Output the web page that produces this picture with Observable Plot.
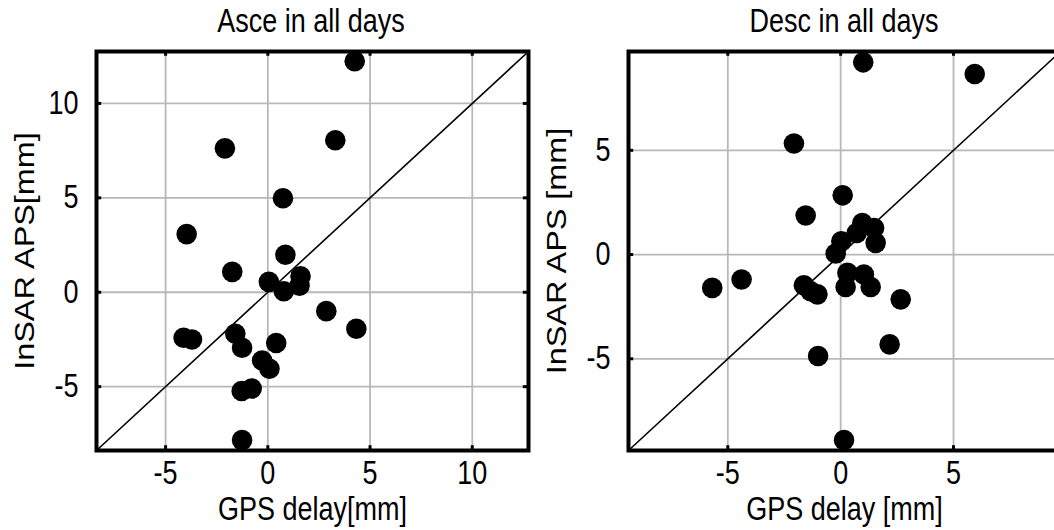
<!DOCTYPE html>
<html>
<head>
<meta charset="utf-8">
<script src="https://cdn.jsdelivr.net/npm/d3@7"></script>
<script src="https://cdn.jsdelivr.net/npm/@observablehq/plot@0.6"></script>
<style>
  html, body { margin: 0; padding: 0; background: white; }
  #wrap { position: relative; width: 1054px; height: 530px; overflow: hidden; background: white; }
  .panel { position: absolute; top: 0; width: 540px; }
  .panel svg { max-width: none !important; }
  .title { position: absolute; top: 6px; font-family: "Liberation Sans", Arial, sans-serif; font-size: 27px; color: black; text-align: center; width: 400px; transform: scaleY(1.2); transform-origin: 50% 50%; }
</style>
</head>
<body>
<div id="wrap">
  <div class="panel" id="left" style="left:0px"></div>
  <div class="panel" id="right" style="left:532px"></div>
  <div class="title" id="t1" style="left:111px"></div>
  <div class="title" id="t2" style="left:644px"></div>
</div>
<script>
// ---- Data ----
const titles = ["Asce in all days", "Desc in all days"];
const xLabels = ["GPS delay[mm]", "GPS delay [mm]"];
const yLabels = ["InSAR APS[mm]", "InSAR APS [mm]"];

const asceGPS = [4.25, 3.30, -2.10, 0.74, -3.97, 0.86, -1.74, 0.05, 0.78, 1.60, 1.55, 2.86, 4.33, -4.12, -3.71, -1.59, -1.26, 0.41, -0.28, 0.08, -1.28, -0.79, -1.26];
const asceAPS = [12.23, 8.05, 7.62, 4.98, 3.08, 1.99, 1.08, 0.55, 0.05, 0.85, 0.35, -1.00, -1.93, -2.41, -2.50, -2.20, -2.94, -2.69, -3.61, -4.05, -5.23, -5.10, -7.83];

const descGPS = [1.00, 5.94, -2.07, 0.09, -1.55, 0.96, 1.48, 0.71, 1.55, 0.03, -0.22, -4.39, -5.69, 0.30, 1.03, -1.63, -1.33, -1.03, 0.22, 1.33, 2.66, 2.17, -1.00, 0.15];
const descAPS = [9.22, 8.66, 5.33, 2.84, 1.87, 1.51, 1.27, 1.03, 0.56, 0.64, 0.05, -1.20, -1.60, -0.88, -0.96, -1.47, -1.76, -1.91, -1.56, -1.56, -2.15, -4.31, -4.87, -8.90];

const asceDomain = [-8.38, 12.75];
const descDomain = [-9.4, 9.74];
const asceTicks = [-5, 0, 5, 10];
const descTicks = [-5, 0, 5];

function panel(xs, ys, domain, ticks, xlabel, ylabel) {
  const data = xs.map((x, i) => ({x, y: ys[i]}));
  const d0 = domain[0], d1 = domain[1];
  const tickLen = (d1 - d0) * 0.012;
  const fmt = d => String(d);
  return Plot.plot({
    width: 540,
    height: 530,
    marginLeft: 96,
    marginRight: 12,
    marginTop: 51,
    marginBottom: 80,
    style: {fontFamily: "'Liberation Sans', Arial, sans-serif", fontSize: "27px", color: "black", background: "white", overflow: "visible", maxWidth: "none"},
    x: {domain, ticks},
    y: {domain, ticks},
    marks: [
      Plot.gridX(ticks, {stroke: "#b8b8b8", strokeOpacity: 1, strokeWidth: 1.8}),
      Plot.gridY(ticks, {stroke: "#b8b8b8", strokeOpacity: 1, strokeWidth: 1.8}),
      // inward tick marks
      Plot.ruleX(ticks, {y1: d0, y2: d0 + tickLen, stroke: "black", strokeWidth: 3}),
      Plot.ruleX(ticks, {y1: d1, y2: d1 - tickLen, stroke: "black", strokeWidth: 3}),
      Plot.ruleY(ticks, {x1: d0, x2: d0 + tickLen, stroke: "black", strokeWidth: 3}),
      Plot.ruleY(ticks, {x1: d1, x2: d1 - tickLen, stroke: "black", strokeWidth: 3}),
      Plot.link([domain], {x1: d => d[0], y1: d => d[0], x2: d => d[1], y2: d => d[1], stroke: "black", strokeWidth: 1.6}),
      Plot.dot(data, {x: "x", y: "y", r: 10.3, fill: "black", stroke: "none"}),
      Plot.frame({stroke: "black", strokeWidth: 4}),
      Plot.axisX(ticks, {tickSize: 0, tickPadding: 13, fontSize: 27, tickFormat: fmt, label: xlabel, labelAnchor: "center", labelArrow: "none", labelOffset: 68}),
      Plot.axisY(ticks, {tickSize: 0, tickPadding: 18, fontSize: 27, tickFormat: fmt, label: ylabel, labelAnchor: "center", labelArrow: "none", labelOffset: 82})
    ]
  });
}

// stretch texts vertically (as in the reference's tall lettering)
function stretch(svg, s) {
  svg.querySelectorAll("text").forEach(t => {
    const r = t.getBoundingClientRect();
    const parent = t.parentNode;
    const m = parent.getScreenCTM().inverse();
    const pt = svg.createSVGPoint();
    pt.x = r.x + r.width / 2; pt.y = r.y + r.height / 2;
    const p = pt.matrixTransform(m);
    const g = document.createElementNS("http://www.w3.org/2000/svg", "g");
    g.setAttribute("transform", `translate(${p.x},${p.y}) scale(1,${s}) translate(${-p.x},${-p.y})`);
    parent.insertBefore(g, t);
    g.appendChild(t);
  });
}

const leftSvg = panel(asceGPS, asceAPS, asceDomain, asceTicks, xLabels[0], yLabels[0]);
const rightSvg = panel(descGPS, descAPS, descDomain, descTicks, xLabels[1], yLabels[1]);
document.getElementById("left").appendChild(leftSvg);
document.getElementById("right").appendChild(rightSvg);
stretch(leftSvg, 1.2);
stretch(rightSvg, 1.2);
document.getElementById("t1").textContent = titles[0];
document.getElementById("t2").textContent = titles[1];
</script>
</body>
</html>
